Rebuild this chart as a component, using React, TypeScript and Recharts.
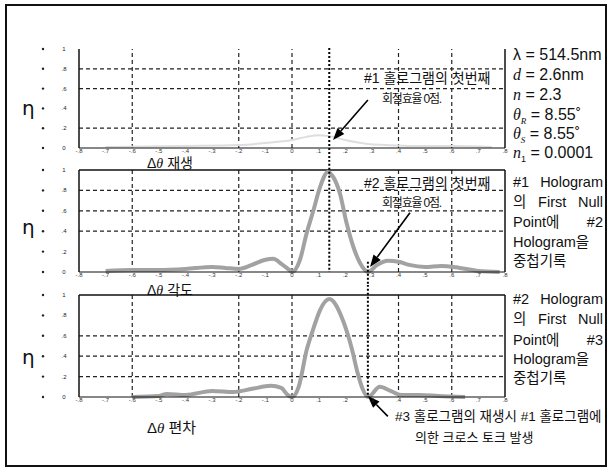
import React from 'react';
import { LineChart, Line, XAxis, YAxis, ReferenceLine } from 'recharts';

// x axis: angle deviation, y axis: diffraction efficiency (eta)
const xTicks = [-0.8, -0.7, -0.6, -0.5, -0.4, -0.3, -0.2, -0.1, 0, 0.1, 0.2, 0.3, 0.4, 0.5, 0.6, 0.7, 0.8];
const yTicks = [0, 0.2, 0.4, 0.6, 0.8, 1];
const gridX = [-0.6, -0.2, 0, 0.4, 0.6];

// panel 1 (재생) - faint trace in the scan
const p1X = [-0.7, -0.4, -0.2, -0.1, 0, 0.05, 0.1, 0.14, 0.2, 0.285, 0.35, 0.45, 0.6, 0.75];
const p1Eta = [0.01, 0.02, 0.03, 0.05, 0.08, 0.11, 0.13, 0.12, 0.08, 0.04, 0.03, 0.02, 0.02, 0.01];
const p1Grid = [0.8, 0.6, 0.2];

// panel 2 (각도)
const p2X = [-0.7, -0.6, -0.5, -0.4, -0.3, -0.25, -0.2, -0.15, -0.1, -0.07, -0.04, -0.01, 0, 0.03, 0.055, 0.08, 0.105, 0.135, 0.155, 0.18, 0.205, 0.23, 0.255, 0.285, 0.32, 0.36, 0.4, 0.44, 0.5, 0.56, 0.63, 0.7, 0.78];
const p2Eta = [0.01, 0.02, 0.02, 0.03, 0.05, 0.04, 0.03, 0.07, 0.12, 0.13, 0.08, 0.02, 0, 0.12, 0.38, 0.6, 0.83, 0.98, 0.93, 0.77, 0.48, 0.25, 0.09, 0, 0.07, 0.11, 0.1, 0.07, 0.05, 0.06, 0.04, 0.01, 0];
const p2Grid = [0.8, 0.6, 0.4];

// panel 3 (편차)
const p3X = [-0.6, -0.5, -0.47, -0.4, -0.3, -0.22, -0.15, -0.08, -0.04, -0.02, 0, 0.025, 0.056, 0.079, 0.105, 0.14, 0.19, 0.225, 0.245, 0.265, 0.285, 0.33, 0.37, 0.41, 0.48, 0.55, 0.65];
const p3Eta = [0, 0.01, 0.03, 0.02, 0.06, 0.05, 0.08, 0.11, 0.09, 0.03, 0, 0.1, 0.47, 0.66, 0.85, 0.96, 0.76, 0.47, 0.25, 0.08, 0, 0.1, 0.06, 0.02, 0.02, 0.01, 0];
const p3Grid = [0.6, 0.4, 0.2];

const peakX = 0.14;
const nullX = 0.285;

const LATIN = "'Liberation Sans', 'Noto Sans CJK KR', sans-serif";
const KR = "'Liberation Sans', 'Noto Sans CJK KR', sans-serif";

const fmt = (v: number) => {
  if (v === 0) return '0';
  if (v === 1) return '1';
  return v.toFixed(1).replace('0.', '.');
};

const YTick = (props: any) => {
  const { y, payload } = props;
  return (
    <g>
      <circle cx={43} cy={y} r={1.2} fill="#222" />
      <text x={64} y={y} dy={2} fontSize={6} textAnchor="middle" fill="#222" fontFamily={LATIN}>
        {fmt(payload.value)}
      </text>
    </g>
  );
};

// arrow drawn from segment[0] to segment[1] (tip)
const Arrow = (p: any) => {
  const { x1, y1, x2, y2 } = p;
  if ([x1, y1, x2, y2].some((v) => typeof v !== 'number')) return <g />;
  const a = Math.atan2(y2 - y1, x2 - x1);
  const L = 12;
  const W = 4.5;
  const bx = x2 - L * Math.cos(a);
  const by = y2 - L * Math.sin(a);
  const px = -Math.sin(a) * W;
  const py = Math.cos(a) * W;
  return (
    <g>
      <line x1={x1} y1={y1} x2={bx} y2={by} stroke="#000" strokeWidth={1.6} />
      <polygon points={`${x2},${y2} ${bx + px},${by + py} ${bx - px},${by - py}`} fill="#000" />
    </g>
  );
};

type PanelProps = {
  top: number;
  height: number;
  mt: number;
  mb: number;
  xs: number[];
  ys: number[];
  grid: number[];
  stroke: string;
  width: number;
  frameTop: boolean;
  children?: React.ReactNode;
};

function Panel({ top, height, mt, mb, xs, ys, grid, stroke, width, frameTop, children }: PanelProps) {
  const data = xs.map((x, i) => ({ x, eta: ys[i] }));
  return (
    <div style={{ position: 'absolute', left: 0, top }}>
      <LineChart width={612} height={height} data={data} margin={{ top: mt, right: 107, bottom: mb, left: 0 }}>
        <XAxis
          type="number"
          dataKey="x"
          domain={[-0.8, 0.8]}
          ticks={xTicks}
          interval={0}
          tickFormatter={fmt}
          tickLine={false}
          tickSize={1}
          tickMargin={0}
          axisLine={{ stroke: '#111', strokeWidth: 1.2 }}
          tick={{ fontSize: 6, fill: '#333', fontFamily: LATIN }}
          height={12}
        />
        <YAxis
          type="number"
          domain={[0, 1]}
          ticks={yTicks}
          interval={0}
          width={79}
          tickLine={false}
          axisLine={{ stroke: '#111', strokeWidth: 1.5 }}
          tick={<YTick />}
        />
        {gridX.map((g) => (
          <ReferenceLine key={'vx' + g} x={g} stroke="#222" strokeDasharray="4 3" strokeWidth={1.2} />
        ))}
        {grid.map((g) => (
          <ReferenceLine key={'hy' + g} y={g} stroke="#222" strokeDasharray="4 3" strokeWidth={1.2} />
        ))}
        <ReferenceLine x={0.8} stroke="#111" strokeWidth={1.5} />
        {frameTop && <ReferenceLine y={1} stroke="#111" strokeWidth={1.5} />}
        <Line
          type="monotone"
          dataKey="eta"
          stroke={stroke}
          strokeWidth={width}
          dot={false}
          isAnimationActive={false}
        />
        {children}
      </LineChart>
    </div>
  );
}

const dotted = { stroke: '#000', strokeWidth: 2, strokeDasharray: '2 2', ifOverflow: 'visible' as const };

function Txt({ x, cy, size, children, style }: { x: number; cy: number; size: number; children: React.ReactNode; style?: React.CSSProperties }) {
  return (
    <div
      style={{
        position: 'absolute',
        left: x,
        top: cy - size * 0.6,
        fontSize: size,
        lineHeight: `${size * 1.2}px`,
        whiteSpace: 'nowrap',
        fontFamily: KR,
        color: '#111',
        ...style,
      }}
    >
      {children}
    </div>
  );
}

function Spread({ x, cy, size, w, words }: { x: number; cy: number; size: number; w: number; words: string[] }) {
  return (
    <Txt x={x} cy={cy} size={size} style={{ width: w, display: 'flex', justifyContent: words.length > 1 ? 'space-between' : 'flex-start' }}>
      {words.map((t, i) => (
        <span key={i}>{t}</span>
      ))}
    </Txt>
  );
}

const V = ({ children }: { children: React.ReactNode }) => (
  <span style={{ fontFamily: "'Liberation Serif', serif", fontStyle: 'italic' }}>{children}</span>
);

export default function App() {
  const block2 = [['#1', 'Hologram'], ['의', 'First', 'Null'], ['Point에', '#2'], ['Hologram을'], ['중첩기록']];
  const block3 = [['#2', 'Hologram'], ['의', 'First', 'Null'], ['Point에', '#3'], ['Hologram을'], ['중첩기록']];
  const cy2 = [183, 203, 223, 243, 262];
  const cy3 = [300, 320, 341, 360, 379];
  const params: React.ReactNode[] = [
    <>λ = 514.5nm</>,
    <><V>d</V> = 2.6nm</>,
    <><V>n</V> = 2.3</>,
    <><V>θ</V><sub style={{ fontSize: 9 }}><V>R</V></sub> = 8.55˚</>,
    <><V>θ</V><sub style={{ fontSize: 9 }}><V>S</V></sub> = 8.55˚</>,
    <><V>n</V><sub style={{ fontSize: 9 }}>1</sub> = 0.0001</>,
  ];
  const pcy = [55, 75, 95, 115, 134, 153];

  return (
    <div style={{ position: 'absolute', left: 0, top: 0, width: 612, height: 470, background: '#fff', overflow: 'hidden' }}>
      <div style={{ position: 'absolute', left: 5, top: 4, width: 598, height: 459, border: '2px solid #111' }} />

      <Panel top={0} height={160} mt={49} mb={0} xs={p1X} ys={p1Eta} grid={p1Grid} stroke="#dedede" width={2} frameTop={false}>
        <ReferenceLine {...dotted} segment={[{ x: peakX, y: 1.01 }, { x: peakX, y: -0.12 }]} />
        <ReferenceLine ifOverflow="visible" segment={[{ x: 0.285, y: 0.485 }, { x: 0.154, y: 0.08 }]} shape={Arrow} />
      </Panel>
      <Panel top={160} height={125} mt={10} mb={1} xs={p2X} ys={p2Eta} grid={p2Grid} stroke="#a2a2a2" width={4} frameTop>
        <ReferenceLine {...dotted} segment={[{ x: peakX, y: 1.1 }, { x: peakX, y: 0 }]} />
        <ReferenceLine {...dotted} segment={[{ x: nullX, y: 0.1 }, { x: nullX, y: -0.12 }]} />
        <ReferenceLine ifOverflow="visible" segment={[{ x: 0.443, y: 0.58 }, { x: 0.293, y: 0.05 }]} shape={Arrow} />
      </Panel>
      <Panel top={285} height={170} mt={10} mb={46} xs={p3X} ys={p3Eta} grid={p3Grid} stroke="#a2a2a2" width={4} frameTop>
        <ReferenceLine {...dotted} segment={[{ x: nullX, y: 1.1 }, { x: nullX, y: 0 }]} />
        <ReferenceLine ifOverflow="visible" segment={[{ x: 0.36, y: -0.19 }, { x: 0.285, y: 0.01 }]} shape={Arrow} />
      </Panel>

      {[108, 227, 357].map((cy) => (
        <Txt key={cy} x={22} cy={cy} size={20} style={{ fontFamily: "'DejaVu Sans', sans-serif" }}>η</Txt>
      ))}

      <Txt x={147} cy={163} size={14}>Δ<V>θ</V> 재생</Txt>
      <Txt x={147} cy={290} size={14}>Δ<V>θ</V> 각도</Txt>
      <Txt x={147} cy={428} size={15}>Δ<V>θ</V> 편차</Txt>

      {params.map((p, i) => (
        <Txt key={i} x={513} cy={pcy[i]} size={16} style={{ fontFamily: LATIN }}>{p}</Txt>
      ))}

      {block2.map((w, i) => (
        <Spread key={'b2' + i} x={513} cy={cy2[i]} size={14.5} w={90} words={w} />
      ))}
      {block3.map((w, i) => (
        <Spread key={'b3' + i} x={513} cy={cy3[i]} size={14.5} w={90} words={w} />
      ))}

      <Txt x={364} cy={78} size={14}>#1 홀로그램의 첫번째</Txt>
      <Txt x={382} cy={99} size={12} style={{ letterSpacing: -1.2 }}>회절효율 0점.</Txt>
      <Txt x={364} cy={183} size={14}>#2 홀로그램의 첫번째</Txt>
      <Txt x={382} cy={203} size={12} style={{ letterSpacing: -1.2 }}>회절효율 0점.</Txt>
      <Txt x={395} cy={417} size={13.5}>#3 홀로그램의 재생시 #1 홀로그램에</Txt>
      <Txt x={415} cy={438} size={13}>의한 크로스 토크 발생</Txt>
    </div>
  );
}
